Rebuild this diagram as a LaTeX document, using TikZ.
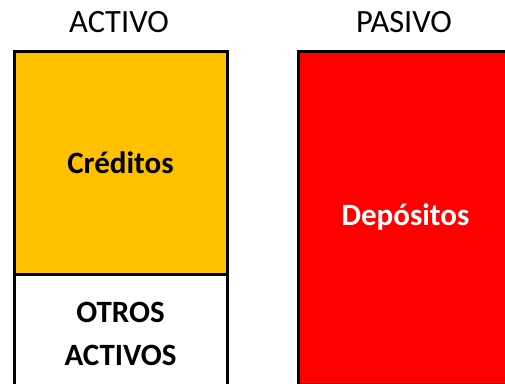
\documentclass[tikz,border=0pt]{standalone}
\usepackage{fontspec}
\setmainfont{Carlito}
\definecolor{amber}{HTML}{FFC000}
\definecolor{vivid}{HTML}{FF0000}
\begin{document}
\begin{tikzpicture}[x=1pt,y=-1pt,
  box/.style={draw=black,line width=3pt,anchor=north west,inner sep=0pt,align=center,
    font=\fontsize{31}{42.5}\selectfont\bfseries},
  head/.style={anchor=base,inner sep=0pt,font=\fontsize{32.5}{38}\selectfont}]
\useasboundingbox (0,0) rectangle (505,383);
\clip (0,0) rectangle (505,383);
\node[head] (activo) at (119,32) {ACTIVO};
\node[head] (pasivo) at (404,32) {PASIVO};
\node[box,fill=amber,minimum width=213pt,minimum height=223.5pt] (cred) at (12.5,49.5) {Créditos};
\node[box,fill=white,minimum width=213pt,minimum height=119pt] (otros) at (12.5,273) {OTROS\\ACTIVOS};
\node[box,fill=vivid,text=white,minimum width=215pt,minimum height=333pt] (dep) at (296.5,49.5) {Depósitos};
\end{tikzpicture}
\end{document}
